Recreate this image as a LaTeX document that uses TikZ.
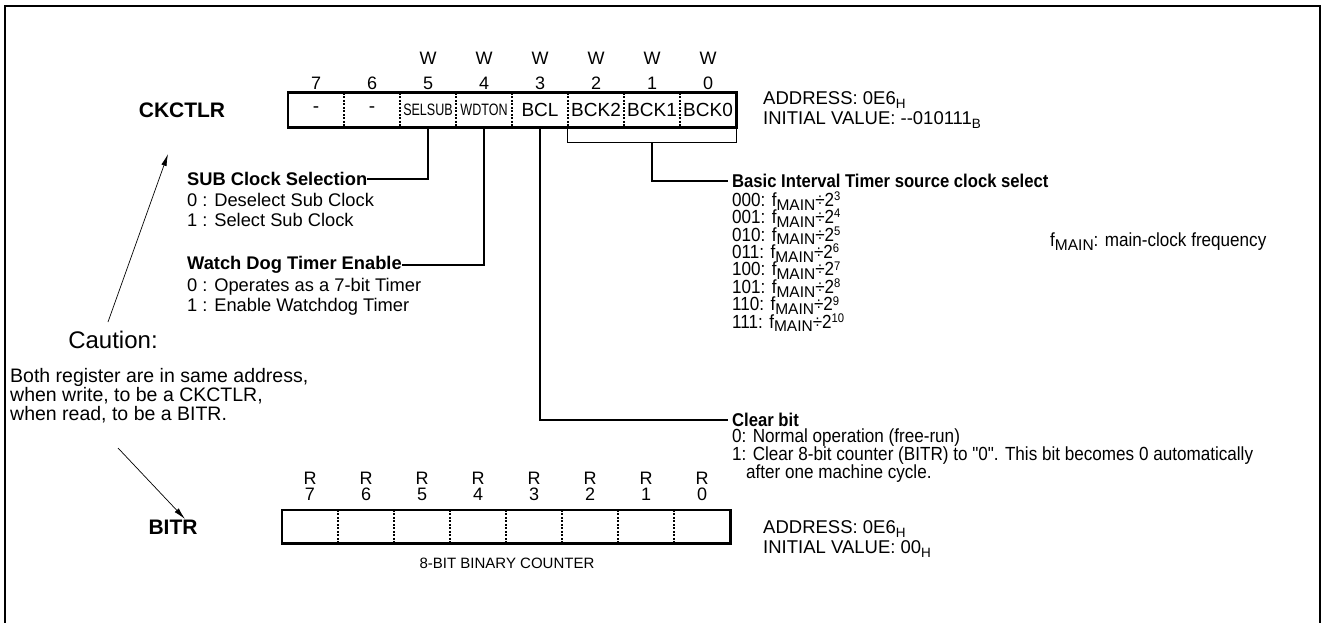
\documentclass[tikz,border=0pt]{standalone}
\usepackage{fontspec}
\setmainfont{Liberation Sans}
\newfontfamily\narrowsf{Liberation Sans}[FakeStretch=0.9]
\usepackage{graphicx}
\usetikzlibrary{positioning,arrows.meta,calc}

\newcommand\fsz[1]{\fontsize{#1}{#1}\selectfont}
\newcommand\lowtx[1]{\raisebox{-0.22em}{\fontsize{13.5}{13.5}\selectfont #1}}
\newcommand\uptx[1]{\raisebox{0.3em}{\fontsize{12.5}{12.5}\selectfont #1}}
\newcommand\fmain{f\raisebox{-0.2em}{\rmfamily\fontsize{15.5}{15.5}\selectfont MAIN}}
\newcommand\sqz[1]{\scalebox{0.76}[1]{\fontsize{16.5}{16.5}\selectfont #1}}

\begin{document}
\begin{tikzpicture}[x=1pt, y=-1pt,
  every node/.style={inner sep=0pt, font=\fsz{18}},
  regname/.style={font=\fsz{21}\bfseries},
  cell/.style={minimum width=56pt, minimum height=34pt, font=\fsz{19}},
  ttl/.style={anchor=west, font=\fsz{18.3}\bfseries},
  txt/.style={anchor=north west, align=left, font=\fontsize{18.3}{20.2}\selectfont},
  nttl/.style={anchor=west, font=\narrowsf\fsz{18.5}\bfseries},
  ntxt/.style={anchor=west, font=\narrowsf\fsz{19}},
  regbox/.style={line width=2.6pt},
  divider/.style={dash pattern=on 2pt off 1.5pt, line width=1.6pt},
  conn/.style={line width=1.1pt},
  hint/.style={line width=0.7pt, -{Latex[length=12pt,width=5.5pt]}}
]
\useasboundingbox (0,0) rectangle (1321,623);
\draw[line width=1.5pt] (5,623) -- (5,6) -- (1320,6) -- (1320,623);

% CKCTLR register
\node[regname] (ckname) at (182,110) {CKCTLR};
\foreach \b/\t in {7/-,6/-,5/{\sqz{SELSUB}},4/{\sqz{WDTON}},3/BCL,2/BCK2,1/BCK1,0/BCK0}
  \node[cell] (c\b) at ({316+56*(7-\b)},110) {\t};
\foreach \b in {7,...,0}
  \node (cn\b) at (c\b |- 0,83) {\b};
\foreach \b in {5,...,0}
  \node (cw\b) at (c\b |- 0,58) {W};
\foreach \b in {6,...,0}
  \draw[divider] (c\b.north west) -- (c\b.south west);
\draw[regbox] (c7.north west) rectangle (c0.south east);
\node[txt, font=\fontsize{18.5}{20.5}\selectfont] (ckaddr) at (763,91) {ADDRESS: 0E6\lowtx{H}\\INITIAL VALUE: -{}-010111\lowtx{B}};

% bit descriptions
\node[ttl] (subt) at (187,179) {SUB Clock Selection};
\node[txt] (subb) at (187,193.2) {0 : Deselect Sub Clock\\1 : Select Sub Clock};
\node[ttl] (wdtt) at (187,265) {Watch Dog Timer Enable};
\node[txt] (wdtb) at (187,278.2) {0 : Operates as a 7-bit Timer\\1 : Enable Watchdog Timer};

\node[nttl] (bitt) at (732,181) {Basic Interval Timer source clock select};
\foreach \c/\e [count=\k from 0] in {000/3,001/4,010/5,011/6,100/7,101/8,110/9,111/10}
  \node[ntxt] (bs\c) at (732,{201+17.4*\k}) {\c: \fmain÷2\uptx{\e}};
\node[ntxt] (fnote) at (1050,242) {\fmain: main-clock frequency};

\node[nttl] (clrt) at (732,420) {Clear bit};
\node[ntxt] (clr0) at (732,438) {0: Normal operation (free-run)};
\node[ntxt] (clr1) at (732,455.6) {1: Clear 8-bit counter (BITR) to "0". This bit becomes 0 automatically};
\node[ntxt] (clr2) at (746,473.2) {after one machine cycle.};

\draw[conn] (c5.south) |- (subt.east);
\draw[conn] (c4.south) |- (wdtt.east);
\draw[conn] (c3.south) |- ([xshift=-4pt]clrt.west);
\draw[conn] (c2.south west) -- ++(0,15) -| (c0.south east);
\coordinate (bkmid) at ($(c2.south west)!0.5!(c0.south east)+(0,15)$);
\draw[conn] (bkmid) |- ([xshift=-4pt]bitt.west);

% caution
\node[font=\fsz{24}] (caut) at (113,340) {Caution:};
\node[txt, font=\fontsize{19.5}{19}\selectfont] (both) at (10,368) {Both register are in same address,\\when write, to be a CKCTLR,\\when read, to be a BITR.};
\coordinate (upfrom) at (108,322);
\coordinate (upto) at (168,154);
\coordinate (dnfrom) at (118,448);
\coordinate (dnto) at (185,519);
\draw[hint] (upfrom) -- (upto);
\draw[hint] (dnfrom) -- (dnto);

% BITR register
\node[regname] (biname) at (173,527) {BITR};
\foreach \b in {7,...,0}
  \node[cell, minimum height=33pt] (r\b) at ({310+56*(7-\b)},526.5) {};
\foreach \b in {7,...,0}
  \node (rn\b) at (r\b |- 0,494) {\b};
\foreach \b in {7,...,0}
  \node (rr\b) at (r\b |- 0,478) {R};
\foreach \b in {6,...,0}
  \draw[divider] (r\b.north west) -- (r\b.south west);
\draw[regbox] (r7.north west) rectangle (r0.south east);
\node[font=\fsz{15}] (bicap) at (507,563) {8-BIT BINARY COUNTER};
\node[txt, font=\fontsize{18.5}{20.5}\selectfont] (biaddr) at (763,520.2) {ADDRESS: 0E6\lowtx{H}\\INITIAL VALUE: 00\lowtx{H}};
\end{tikzpicture}
\end{document}
